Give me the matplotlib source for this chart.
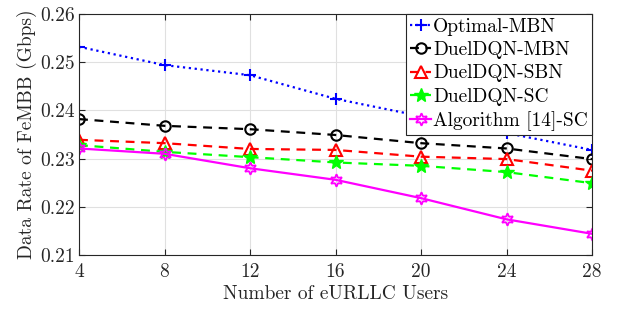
import matplotlib
matplotlib.use("Agg")
import matplotlib.pyplot as plt

plt.rcParams['font.family'] = ['cmr10', 'DejaVu Serif']
plt.rcParams['mathtext.fontset'] = 'cm'
plt.rcParams['axes.unicode_minus'] = False

users = [4, 8, 12, 16, 20, 24, 28]
optimal_mbn = [0.2532, 0.2494, 0.2473, 0.2424, 0.2388, 0.2353, 0.2318]
dueldqn_mbn = [0.2382, 0.2368, 0.2361, 0.2349, 0.2332, 0.2321, 0.2299]
dueldqn_sbn = [0.2339, 0.2332, 0.2320, 0.2318, 0.2304, 0.2299, 0.2275]
dueldqn_sc = [0.2328, 0.2314, 0.2303, 0.2292, 0.2285, 0.2272, 0.2249]
alg14_sc = [0.2321, 0.2310, 0.2280, 0.2256, 0.2218, 0.2174, 0.2144]
yticks = [0.21, 0.22, 0.23, 0.24, 0.25, 0.26]

fig = plt.figure(figsize=(6.24, 3.13), dpi=100)
ax = fig.add_axes([79/624, 1-255/313, (592-79)/624, (255-14)/313])

ax.plot(users, optimal_mbn, color='#0000ff', linestyle=':', linewidth=1.6,
        marker='+', markersize=8, markeredgewidth=1.5, label='Optimal-MBN')
ax.plot(users, dueldqn_mbn, color='black', linestyle='--', linewidth=1.6, dashes=(4, 3),
        marker='o', markersize=7.5, markerfacecolor='none', markeredgewidth=1.5, label='DuelDQN-MBN')
ax.plot(users, dueldqn_sbn, color='#ff0000', linestyle='--', linewidth=1.6, dashes=(4, 3),
        marker='^', markersize=8, markerfacecolor='none', markeredgewidth=1.5, label='DuelDQN-SBN')
ax.plot(users, dueldqn_sc, color='#00ff00', linestyle='--', linewidth=1.6, dashes=(4, 3),
        marker='*', markersize=10, markeredgewidth=1.0, label='DuelDQN-SC')
ax.plot(users, alg14_sc, color='#ff00ff', linestyle='-', linewidth=1.6,
        marker=(6, 1, 0), markersize=9, markerfacecolor='none', markeredgewidth=1.3,
        label='Algorithm [14]-SC')

ax.set_xlim(4, 28)
ax.set_ylim(0.21, 0.26)
ax.set_xticks(users)
ax.set_yticks(yticks)
ax.set_yticklabels([f'{v:.2f}' for v in yticks])
ax.grid(True, color='#e0e0e0', linewidth=0.8)
ax.set_axisbelow(True)
ax.tick_params(direction='in', top=True, right=True, labelsize=14, colors='#262626',
               length=4)
ax.tick_params(axis='x', pad=6)
ax.tick_params(axis='y', pad=3)
for s in ax.spines.values():
    s.set_color('#262626')
    s.set_linewidth(0.8)

ax.set_xlabel('Number of eURLLC Users', fontsize=14, color='#262626', labelpad=3)
ax.set_ylabel('Data Rate of FeMBB (Gbps)', fontsize=14, color='#262626', labelpad=2)

leg = ax.legend(loc='upper right', fontsize=14, handlelength=1.1, handletextpad=0.1,
                borderpad=0.2, labelspacing=0.27, borderaxespad=0.0, fancybox=False,
                framealpha=1.0, edgecolor='#262626')
leg.get_frame().set_linewidth(0.8)

fig.savefig('out.png', dpi=100)
